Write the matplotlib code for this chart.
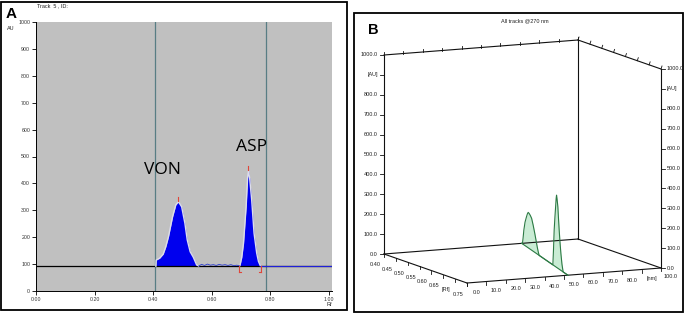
import numpy as np
import matplotlib
matplotlib.use("Agg")
import matplotlib.pyplot as plt
from matplotlib.patches import Rectangle

# ---- panel A: densitogram, track 5 ----
baseline_au = 92
von_rf = [0.409, 0.410, 0.422, 0.434, 0.443, 0.452, 0.466, 0.477, 0.486, 0.497, 0.508, 0.516, 0.526, 0.537, 0.548, 0.555]
von_au = [92, 115, 122, 137, 165, 202, 276, 320, 332, 313, 252, 190, 146, 125, 97, 93]
gap_rf = [0.555, 0.565, 0.575, 0.585, 0.595, 0.605, 0.615, 0.625, 0.635, 0.645, 0.655, 0.665, 0.675, 0.685, 0.696]
gap_au = [93, 99, 95, 100, 96, 98, 95, 99, 96, 98, 95, 98, 94, 96, 93]
asp_rf = [0.696, 0.702, 0.708, 0.717, 0.722, 0.725, 0.729, 0.736, 0.744, 0.753, 0.759, 0.765]
asp_au = [95, 125, 177, 313, 420, 446, 420, 338, 215, 141, 110, 95]
tail_rf = [0.765, 1.01]
tail_au = [93, 93]
peak_marks = [(0.486, 332), (0.725, 446)]
bracket_rf = [0.693, 0.768]
track_lines = [0.406, 0.785]
a_xticks = [0.0, 0.2, 0.4, 0.6, 0.8, 1.0]
a_yticks = list(range(0, 1001, 100))

# ---- panel B: 3D view, all tracks @270 nm ----
b_rf_ticks = [0.40, 0.45, 0.50, 0.55, 0.60, 0.65, 0.70, 0.75]
b_rf_labels = ["0.40", "0.45", "0.50", "0.55", "0.60", "0.65", "[Rf]", "0.75"]
b_nm_ticks = [0, 10, 20, 30, 40, 50, 60, 70, 80, 90, 100]
b_nm_labels = ["0.0", "10.0", "20.0", "30.0", "40.0", "50.0", "60.0", "70.0", "80.0", "[nm]", "100.0"]
b_au_ticks = [0, 100, 200, 300, 400, 500, 600, 700, 800, 900, 1000]
b_au_labels = ["0.0", "100.0", "200.0", "300.0", "400.0", "500.0", "600.0", "700.0", "800.0", "[AU]", "1000.0"]
trace_nm = [71, 52]   # nm position of the trace at Rf 0.40 and 0.75
b_von_rf = [0.405, 0.410, 0.416, 0.425, 0.436, 0.443, 0.449, 0.456, 0.465, 0.475, 0.487, 0.499, 0.510, 0.517, 0.525, 0.532]
b_von_au = [0, 30, 74, 118, 150, 168, 178, 176, 170, 160, 130, 95, 60, 37, 15, 0]
b_asp_rf = [0.636, 0.641, 0.646, 0.652, 0.657, 0.661, 0.664, 0.668, 0.674, 0.679, 0.684, 0.690, 0.697, 0.705, 0.714]
b_asp_au = [0, 80, 179, 250, 302, 345, 363, 345, 309, 250, 197, 140, 85, 35, 0]

W, H = 685, 313
fig = plt.figure(figsize=(W / 100, H / 100), dpi=100)
fig.patch.set_facecolor("white")

# overlay in pixel units for frames and the pseudo-3D panel
ov = fig.add_axes([0, 0, 1, 1])
ov.set_xlim(0, W)
ov.set_ylim(H, 0)
ov.axis("off")

ov.add_patch(Rectangle((1.5, 1.5), 346, 308.5, fill=False, lw=1.3, ec="black"))
ov.add_patch(Rectangle((354, 13), 329.5, 298.5, fill=False, lw=1.3, ec="black"))

small = dict(family="Liberation Sans", fontsize=4, color="#222222")

ov.text(11, 14, "A", fontsize=11, fontweight="bold", ha="center", va="center", family="Liberation Sans")
ov.text(37, 6, "Track  5 , ID:", ha="left", va="center", **small)
ov.text(11, 28, "AU", ha="center", va="center", **small)
ov.text(329, 305, "Rf", ha="center", va="center", **small)

# projection of (Rf, nm, AU) onto the panel B picture
ORIGIN = np.array([384.0, 254.0])
V_RF = np.array([83.0, 29.0])
V_NM = np.array([194.0, -15.0])
V_AU = np.array([0.0, -199.0])


def proj(rf, nm, au):
    r = (np.asarray(rf, float) - 0.40) / 0.35
    n = np.asarray(nm, float) / 100.0
    a = np.asarray(au, float) / 1000.0
    x = ORIGIN[0] + r * V_RF[0] + n * V_NM[0] + a * V_AU[0]
    y = ORIGIN[1] + r * V_RF[1] + n * V_NM[1] + a * V_AU[1]
    return x, y


def seg(p, q, **kw):
    x0, y0 = proj(*p)
    x1, y1 = proj(*q)
    ov.plot([x0, x1], [y0, y1], **kw)


rf0, rf1 = b_rf_ticks[0], b_rf_ticks[-1]
nm0, nm1 = b_nm_ticks[0], b_nm_ticks[-1]
au0, au1 = b_au_ticks[0], b_au_ticks[-1]
box = dict(color="#111111", lw=0.8)
seg((rf0, nm0, au0), (rf0, nm0, au1), **box)
seg((rf0, nm1, au0), (rf0, nm1, au1), **box)
seg((rf1, nm1, au0), (rf1, nm1, au1), **box)
seg((rf0, nm0, au1), (rf0, nm1, au1), **box)
seg((rf0, nm1, au1), (rf1, nm1, au1), **box)
seg((rf0, nm0, au0), (rf1, nm0, au0), **box)
seg((rf1, nm0, au0), (rf1, nm1, au0), **box)
seg((rf0, nm0, au0), (rf0, nm1, au0), **box)
seg((rf0, nm1, au0), (rf1, nm1, au0), **box)

tk = dict(color="#111111", lw=0.6)
for v, lab in zip(b_au_ticks, b_au_labels):
    x, y = proj(rf0, nm0, v)
    ov.plot([x - 4, x], [y, y], **tk)
    ov.text(x - 6, y, lab, ha="right", va="center", **small)
    x, y = proj(rf1, nm1, v)
    ov.plot([x, x + 4], [y, y], **tk)
    ov.text(x + 6, y, lab, ha="left", va="center", **small)
for v, lab in zip(b_nm_ticks, b_nm_labels):
    x, y = proj(rf1, v, au0)
    ov.plot([x, x], [y, y + 3], **tk)
    ov.text(x + 10, y + 9, lab, ha="center", va="center", **small)
    x, y = proj(rf0, v, au1)
    ov.plot([x, x], [y, y - 3], **tk)
for v, lab in zip(b_rf_ticks, b_rf_labels):
    x, y = proj(v, nm0, au0)
    ov.plot([x, x], [y, y + 3], **tk)
    ov.text(x - 9, y + 11, lab, ha="center", va="center", **small)
    x, y = proj(v, nm1, au1)
    ov.plot([x, x + 1], [y, y - 3], **tk)

ov.text(525, 21, "All tracks @270 nm", ha="center", va="center", **small)
ov.text(373, 30, "B", fontsize=10.5, fontweight="bold", ha="center", va="center", family="Liberation Sans")

# trace of panel B
tr_rf = np.concatenate([[rf0], b_von_rf, b_asp_rf, [rf1]])
tr_au = np.concatenate([[0], b_von_au, b_asp_au, [0]])
tr_nm = np.interp(tr_rf, [rf0, rf1], trace_nm)
tx, ty = proj(tr_rf, tr_nm, tr_au)
bx, by = proj(tr_rf, tr_nm, np.zeros_like(tr_au))
ov.fill_between(tx, ty, by, color="#c9ecd4", lw=0)
ov.plot(tx, ty, color="#2c7a44", lw=0.8)
ov.plot(bx, by, color="#2c7a44", lw=0.8)

# ---- panel A axes ----
ax = fig.add_axes([36 / W, 1 - 291 / H, (332 - 36) / W, (291 - 22) / H])
ax.set_facecolor("#c0c0c0")
ax.set_xlim(0, 1.01)
ax.set_ylim(0, 1000)
for s in ["top", "right"]:
    ax.spines[s].set_visible(False)
for s in ["left", "bottom"]:
    ax.spines[s].set_linewidth(0.7)
ax.set_xticks(a_xticks)
ax.set_xticklabels([f"{v:.2f}" for v in a_xticks])
ax.set_yticks(a_yticks)
ax.set_yticklabels([str(v) for v in a_yticks])
ax.tick_params(length=3, width=0.6, labelsize=3.8, pad=1.2, labelcolor="#333333")
for lab in ax.get_xticklabels() + ax.get_yticklabels():
    lab.set_family("Liberation Sans")

for v in track_lines:
    ax.axvline(v, color="#587d84", lw=0.9)
ax.axhline(baseline_au, color="black", lw=0.9)

for rf, au in [(von_rf, von_au), (asp_rf, asp_au)]:
    ax.plot(rf, au, color="#dcdcec", lw=1.0)
    ax.fill_between(rf, baseline_au, au, color="#0000ee", lw=0)
ax.plot(gap_rf, gap_au, color="#2a3ad0", lw=0.6)
ax.plot(tail_rf, tail_au, color="#2020d8", lw=0.8)

red = dict(color="#e0453a", lw=0.8)
for rf, au in peak_marks:
    ax.plot([rf, rf], [au + 3, au + 18], **red)
for i, rf in enumerate(bracket_rf):
    d = 0.006 if i == 0 else -0.006
    ax.plot([rf, rf], [72, baseline_au], **red)
    ax.plot([rf, rf + d], [72, 72], **red)

ax.text(0.433, 450, "VON", fontsize=12.5, ha="center", va="center", family="Open Sans")
ax.text(0.737, 535, "ASP", fontsize=12.5, ha="center", va="center", family="Open Sans")

fig.savefig("out.png", dpi=100)
